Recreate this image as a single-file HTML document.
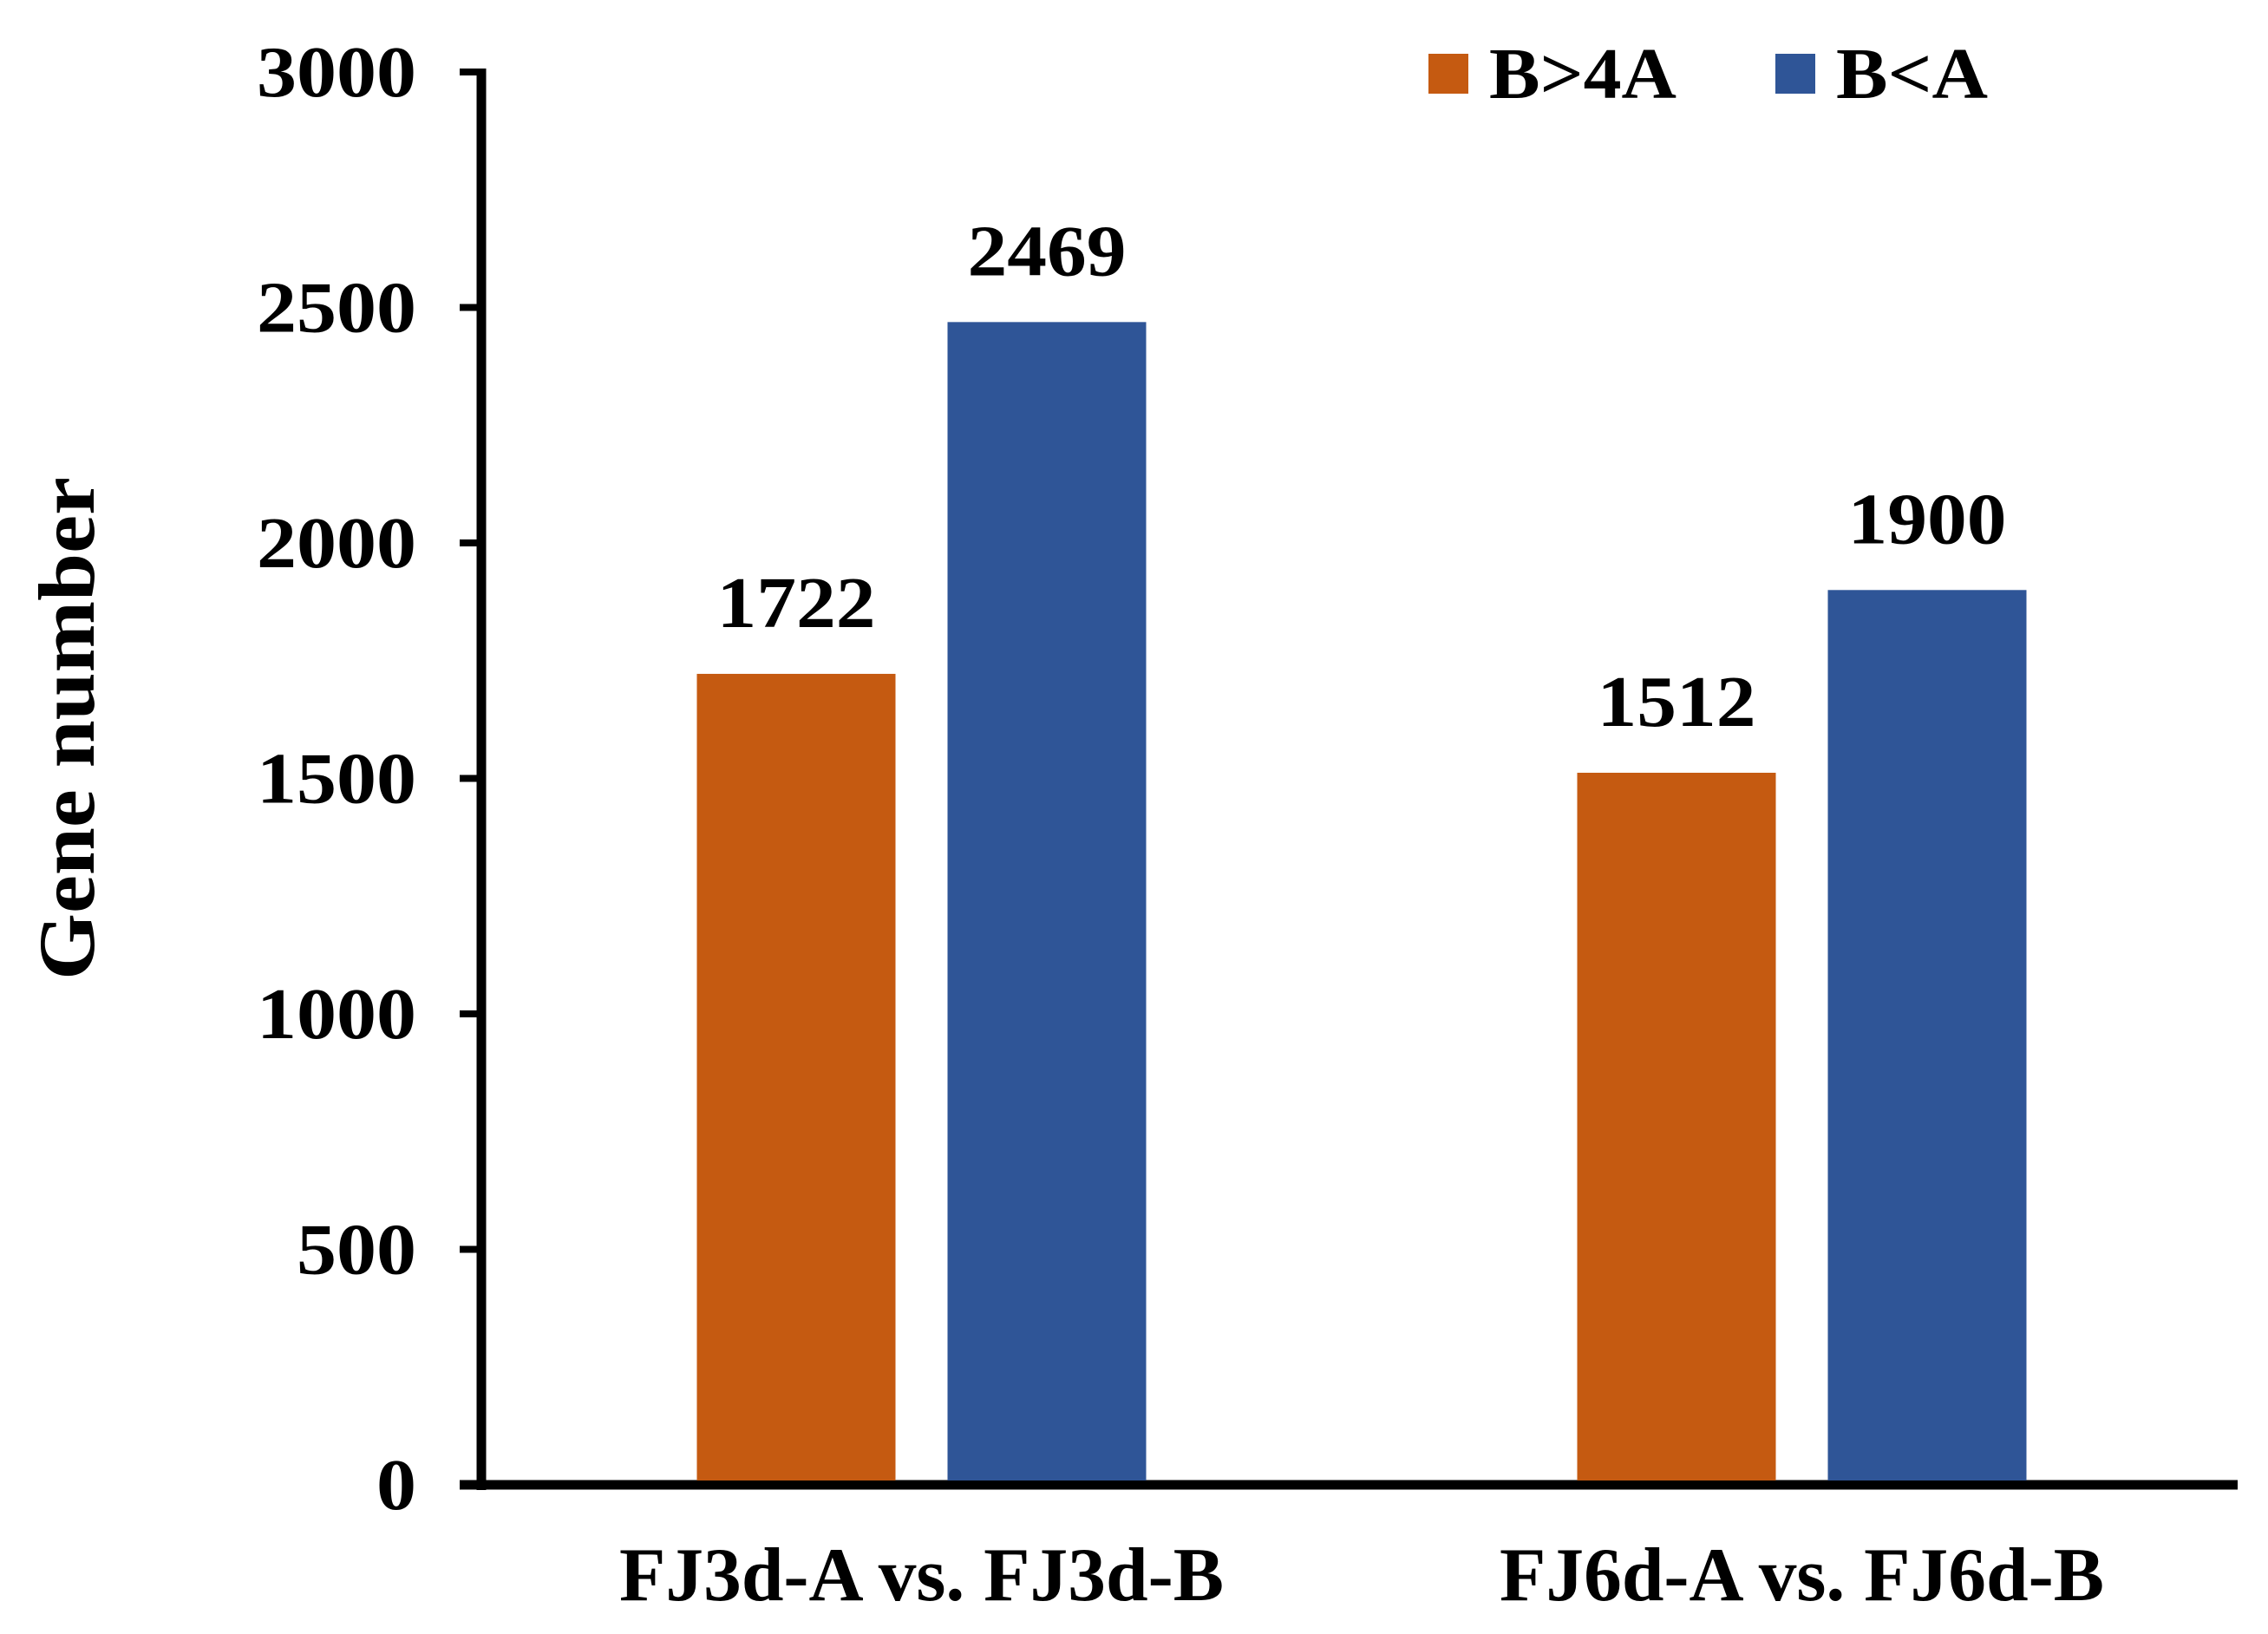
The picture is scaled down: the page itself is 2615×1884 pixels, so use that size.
<!DOCTYPE html>
<html><head><meta charset="utf-8"><style>
html,body{margin:0;padding:0;background:#fff}
svg text{font-family:"Liberation Serif",serif;font-weight:bold;fill:#000}
</style></head><body>
<svg id="chart" width="2615" height="1879" viewBox="0 0 2615 1879" xmlns="http://www.w3.org/2000/svg">
<text transform="translate(108,840) rotate(-90)" text-anchor="middle" font-size="92" textLength="580" lengthAdjust="spacingAndGlyphs">Gene number</text>
<g id="axes"></g>
<g id="bars"></g>
<g>
<rect x="1647" y="62" width="46" height="46" fill="#C55A11"/>
<text x="1717" y="113" font-size="84" textLength="216" lengthAdjust="spacingAndGlyphs">B&gt;4A</text>
<rect x="2047" y="62" width="46" height="46" fill="#2F5597"/>
<text x="2117" y="113" font-size="84" textLength="175" lengthAdjust="spacingAndGlyphs">B&lt;A</text>
</g>
</svg>
<script>
const categories = ["FJ3d-A vs. FJ3d-B", "FJ6d-A vs. FJ6d-B"];
const seriesUp = [1722, 1512];
const seriesDown = [2469, 1900];
const yTicks = [0, 500, 1000, 1500, 2000, 2500, 3000];
const NS = "http://www.w3.org/2000/svg";
const y0 = 1712, yTop = 83, yMax = 3000;
function yScale(v){ return y0 - v / yMax * (y0 - yTop); }
const plotL = 555, plotR = 2585;
const groupW = (plotR - plotL) / categories.length;
function xGroup(i){ return plotL + groupW * (i + 0.5); }
const barW = 229, gap = 60;
function mk(tag, attrs, parent){ const e = document.createElementNS(NS, tag); for (const k in attrs) e.setAttribute(k, attrs[k]); parent.appendChild(e); return e; }
const axes = document.getElementById('axes');
const bars = document.getElementById('bars');
yTicks.forEach(t => {
  const y = yScale(t);
  const tk = mk('line', {x1:530, x2:557, y1:y, y2:y, stroke:'#000', 'stroke-width':8}, axes);
  
  
  const s = String(t);
  const tl = mk('text', {x:480, y:y+28, 'text-anchor':'end', 'font-size':84, textLength:46*s.length, lengthAdjust:'spacingAndGlyphs'}, axes);
  tl.textContent = s;
  
  
});
const ya = mk('line', {x1:555, x2:555, y1:yTop-4, y2:y0+6, stroke:'#000', 'stroke-width':11}, axes);


const xa = mk('line', {x1:530, x2:2580, y1:y0, y2:y0, stroke:'#000', 'stroke-width':11}, axes);


categories.forEach((c, i) => {
  const cx = xGroup(i);
  const specs = [[seriesUp[i], '#C55A11', cx - gap/2 - barW, 'bar-b-gt-4a'], [seriesDown[i], '#2F5597', cx + gap/2, 'bar-b-lt-a']];
  specs.forEach(s => {
    const top = yScale(s[0]);
    const r = mk('rect', {x:s[2], y:top, width:barW, height:y0 - 5 - top, fill:s[1]}, bars);
    
    
    const vl = mk('text', {x:s[2] + barW/2, y:top - 54, 'text-anchor':'middle', 'font-size':84, textLength:183, lengthAdjust:'spacingAndGlyphs'}, bars);
    vl.textContent = String(s[0]);
    
    
  });
  const cl = mk('text', {x:cx, y:1845, 'text-anchor':'middle', 'font-size':88, textLength:697, lengthAdjust:'spacingAndGlyphs'}, axes);
  cl.textContent = c;
  
  
});
</script>
</body></html>
